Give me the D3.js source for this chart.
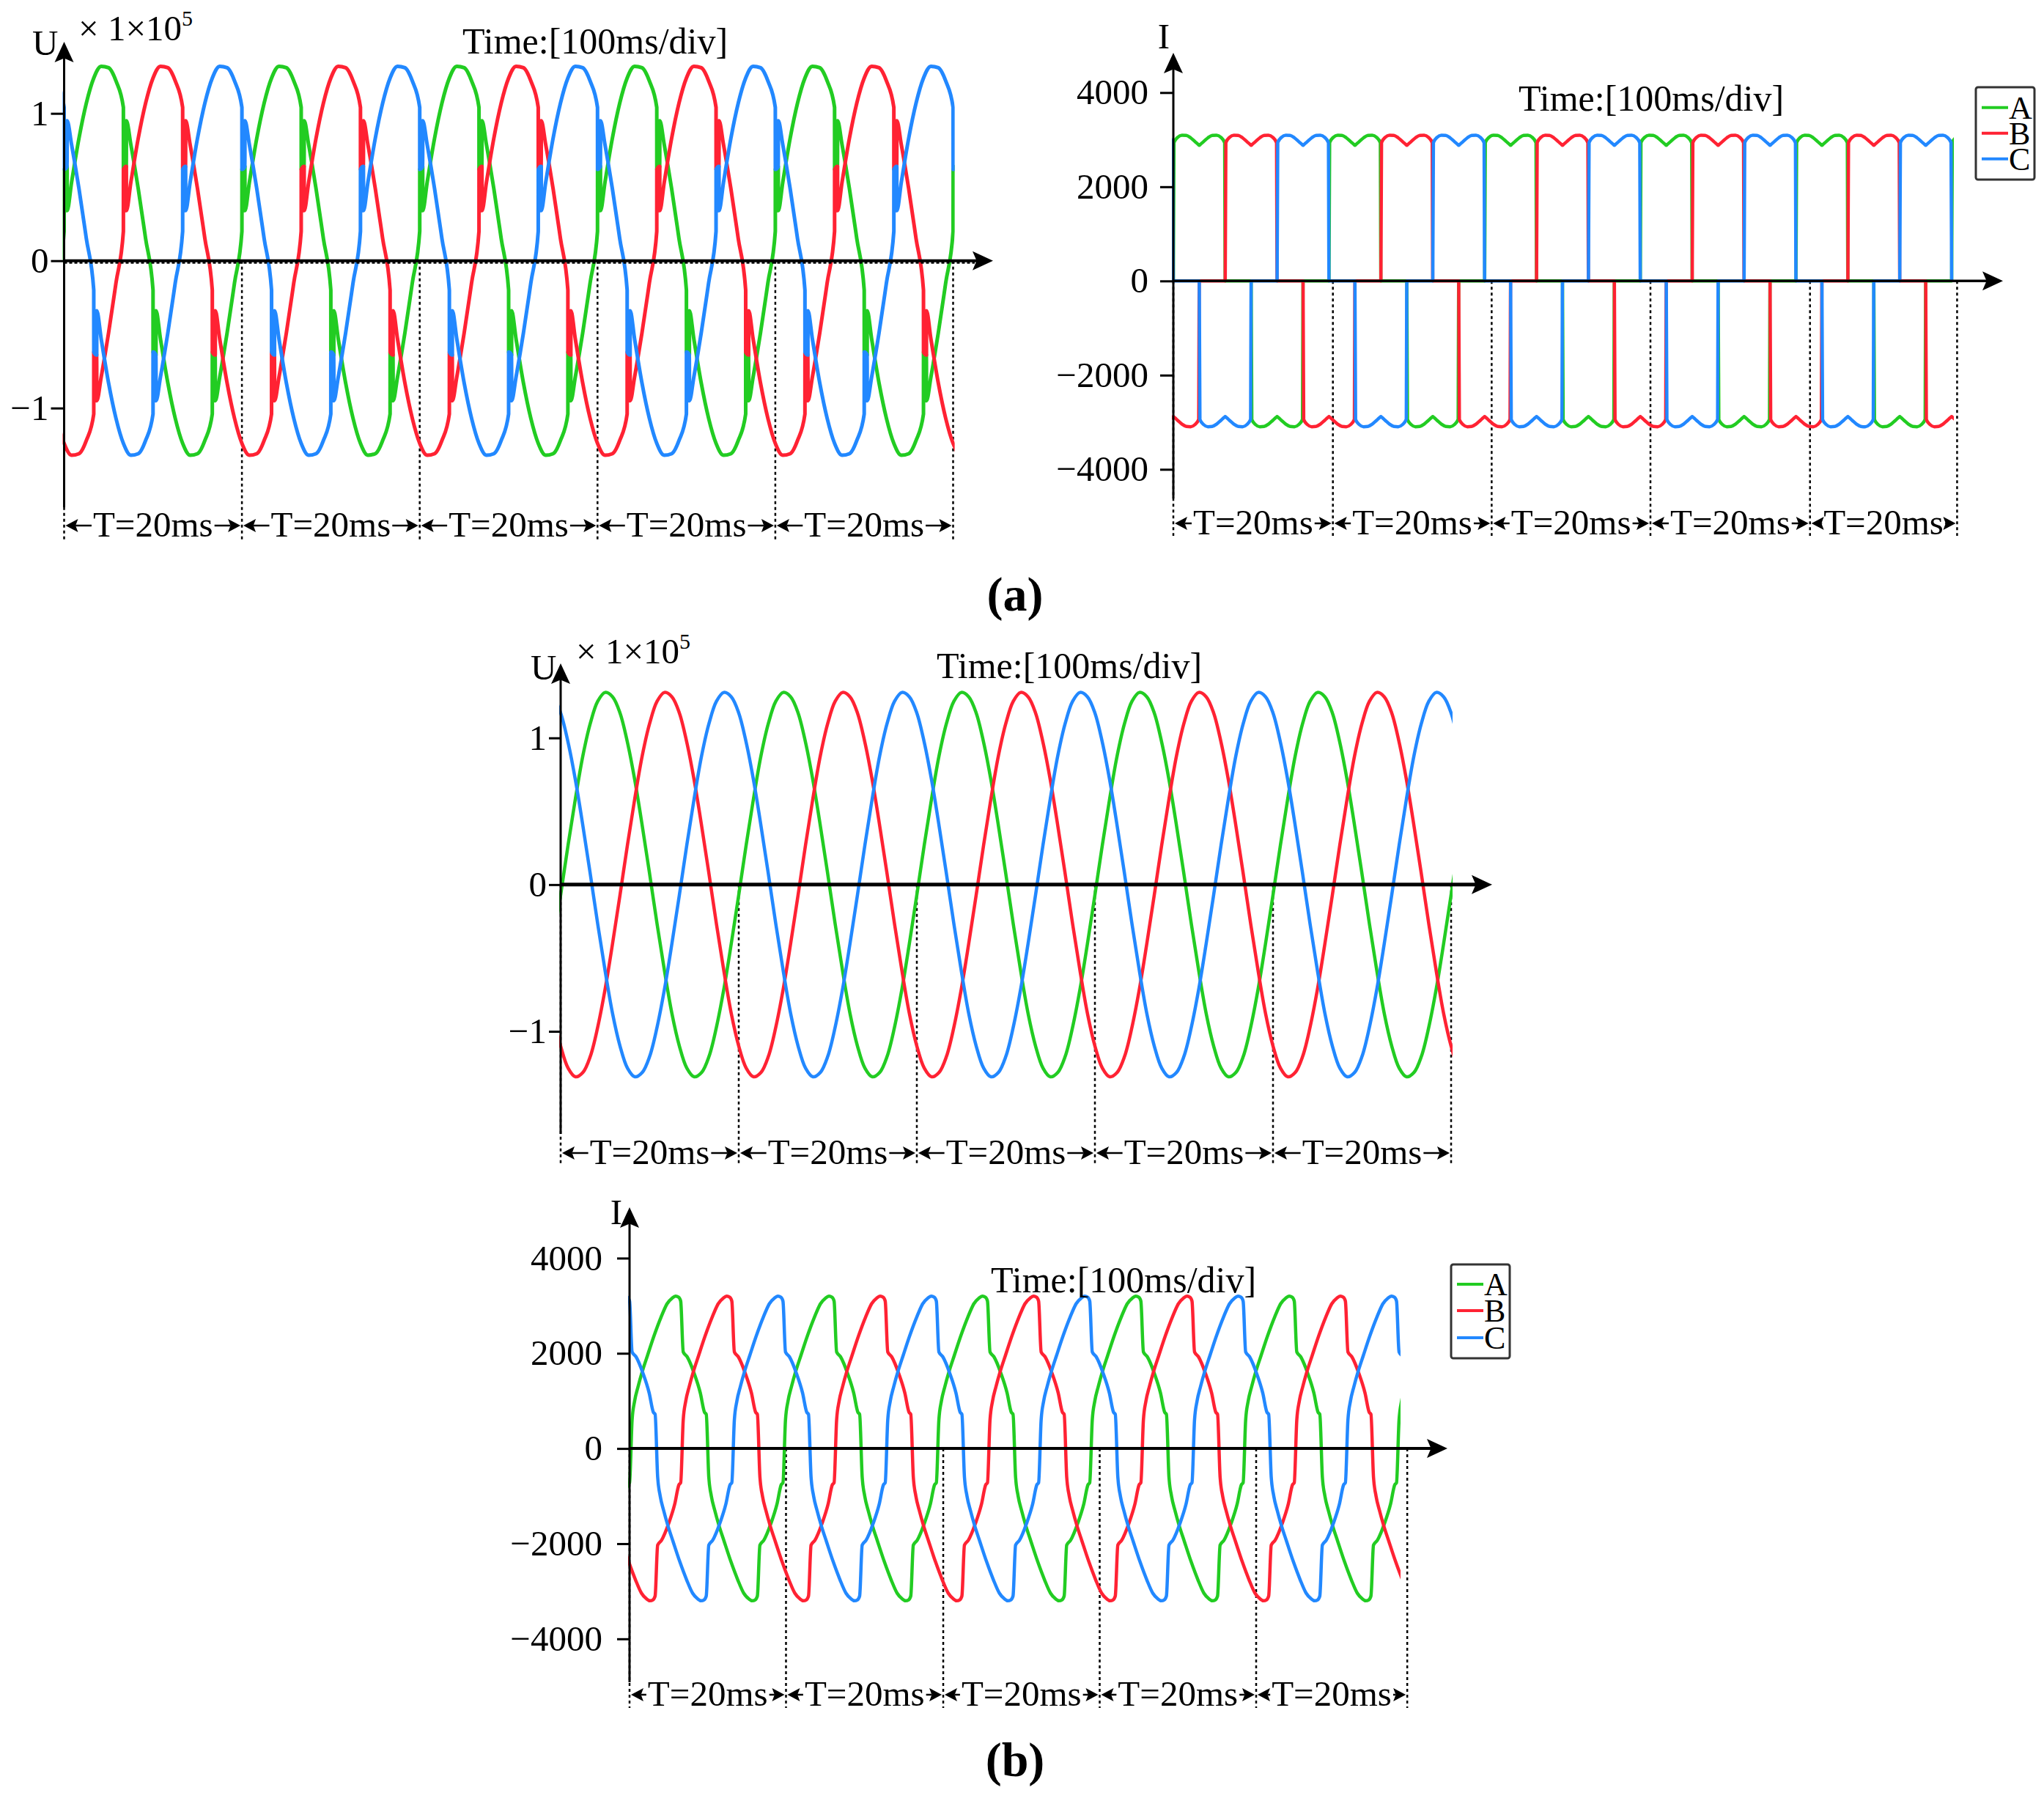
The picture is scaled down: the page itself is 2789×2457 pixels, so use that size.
<!DOCTYPE html>
<html><head><meta charset="utf-8">
<script src="https://cdnjs.cloudflare.com/ajax/libs/d3/7.8.5/d3.min.js"></script>
<style>
body{margin:0;background:#fff}
svg{display:block}
text{font-family:"Liberation Serif","Times New Roman",serif;fill:#000}
</style>
</head><body>
<svg id="c" width="2789" height="2457"></svg>
<script>
// ---------------- DATA ----------------
const phases = ["A", "B", "C"];
const phaseColors = ["#22cc22", "#ff2233", "#2288ff"];
const phaseShiftDeg = [0, 120, 240];          // B lags A by 120°, C by 240°
const uTicks = [-1, 0, 1];
const iTicks = [-4000, -2000, 0, 2000, 4000];
const periodLabel = "T=20ms";
const titleText = "Time:[100ms/div]";
const msPerDeg = 20 / 360;

// (a) voltage, phase A, one period (deg, ×1e5) incl. commutation notches
const uaDeg = [0, 0.1, 6, 6.1, 15, 30, 45, 60, 75, 90, 105, 120, 120.1, 126, 126.1, 135, 150, 165,
               180, 180.1, 186, 186.1, 195, 210, 225, 240, 255, 270, 285, 300, 300.1, 306, 306.1, 315, 330, 345];
const uaVal = [0.20, 0.62, 0.64, 0.34, 0.53, 0.83, 1.07, 1.24, 1.32, 1.31, 1.22, 1.04, 0.62, 0.64, 0.95, 0.79, 0.49, 0.15,
               -0.20, -0.62, -0.64, -0.34, -0.53, -0.83, -1.07, -1.24, -1.32, -1.31, -1.22, -1.04, -0.62, -0.64, -0.95, -0.79, -0.49, -0.15];

// (a) current, phase A, one period (deg, A)
const iaDeg = [0, 1.5, 10, 20, 30, 40, 50, 58, 60, 62, 70, 80, 90, 100, 110, 118.5, 120,
               180, 181.5, 190, 200, 210, 220, 230, 238, 240, 242, 250, 260, 270, 280, 290, 298.5, 300];
const iaVal = [0, 2940, 3050, 3095, 3090, 3040, 2960, 2895, 2880, 2895, 2960, 3040, 3090, 3095, 3050, 2940, 0,
               0, -2940, -3050, -3095, -3090, -3040, -2960, -2895, -2880, -2895, -2960, -3040, -3090, -3095, -3050, -2940, 0];

// (b) voltage, phase A, one period (deg, ×1e5)
const ubDeg = [0, 15, 30, 45, 60, 75, 90, 105, 120, 135, 150, 165, 180, 195, 210, 225, 240, 255, 270, 285, 300, 315, 330, 345];
const ubVal = [-0.07, 0.27, 0.59, 0.88, 1.10, 1.25, 1.31, 1.28, 1.17, 0.97, 0.71, 0.40,
               0.07, -0.27, -0.59, -0.88, -1.10, -1.25, -1.31, -1.28, -1.17, -0.97, -0.71, -0.40];

// (b) current, phase A, one period (deg, A)
const ibDeg = [0, 6, 12, 20, 30, 42, 58, 74, 88, 100, 108, 115, 120, 126, 135, 152, 166, 176,
               180, 186, 192, 200, 210, 222, 238, 254, 268, 280, 288, 295, 300, 306, 315, 332, 346, 356];
const ibVal = [-720, 600, 1000, 1300, 1620, 1950, 2380, 2760, 3040, 3160, 3200, 3180, 3100, 2030, 1930, 1570, 1170, 760,
               720, -600, -1000, -1300, -1620, -1950, -2380, -2760, -3040, -3160, -3200, -3180, -3100, -2030, -1930, -1570, -1170, -760];

// recorded spans (deg) and period-marker positions (ms)
const aLeftSpanDeg = 1800.2, aRightSpanDeg = 1801.5, bTopSpanDeg = 1800, bBotSpanDeg = 1806;
const aLeftMarks = [0, 20, 40, 60, 80, 100];
const aRightMarks = [0, 20.5, 40.9, 61.3, 81.8, 100.7];
const bTopMarks = [0, 20, 40, 60, 80, 100];
const bBotMarks = [0, 20.4, 40.9, 61.3, 81.7, 101.4];

// ---------------- LAYOUT ----------------
const svg = d3.select("#c");
const defs = svg.append("defs");

function tile(deg, val, shift, spanDeg) {
  const pts = [];
  const n = Math.ceil(spanDeg / 360) + 1;
  for (let p = -1; p <= n; p++) {
    for (let i = 0; i < deg.length; i++) {
      const th = deg[i] + shift + 360 * p;
      if (th >= -40 && th <= spanDeg + 40) pts.push([th * msPerDeg, val[i]]);
    }
  }
  pts.sort((a, b) => a[0] - b[0]);
  return pts;
}

const panels = [
  { id: "aL", deg: uaDeg, val: uaVal, span: aLeftSpanDeg, marks: aLeftMarks,
    xr: [87.5, 1300.5], yDom: [-1, 1], yr: [556.7, 154.7], ticks: uTicks, fmt: d3.format("d"),
    curve: d3.curveMonotoneX, lw: 5, yTip: 57, yBot: 692, xTip: 1355, dashBot: 736, labelBase: 732,
    tickSize: 18, tickPad: 3, xAxisW: 4, dotted: true,
    title: [631, 73], yName: "U", yNamePos: [44, 75, "start"], mult: [107, 55] },
  { id: "aR", deg: iaDeg, val: iaVal, span: aRightSpanDeg, marks: aRightMarks,
    xr: [1601, 2663], yDom: [-4000, 4000], yr: [640.3, 126.3], ticks: iTicks, fmt: d3.format("d"),
    curve: d3.curveMonotoneX, lw: 4.5, yTip: 72, yBot: 680, xTip: 2733, dashBot: 731, labelBase: 729,
    tickSize: 18, tickPad: 16, xAxisW: 3.5,
    title: [2072, 151], yName: "I", yNamePos: [1588, 66, "middle"],
    legend: { x: 2696, y: 119, w: 80, h: 126, rows: [146.7, 181.7, 216.7] } },
  { id: "bT", deg: ubDeg, val: ubVal, span: bTopSpanDeg, marks: bTopMarks,
    xr: [765, 1980], yDom: [-1, 1], yr: [1407, 1006.7], ticks: uTicks, fmt: d3.format("d"),
    curve: d3.curveCatmullRom.alpha(0.5), lw: 4.5, yTip: 905, yBot: 1547, xTip: 2036, dashBot: 1590, labelBase: 1588,
    tickSize: 16, tickPad: 3, xAxisW: 5,
    title: [1278, 925], yName: "U", yNamePos: [724, 927, "start"], mult: [786, 905] },
  { id: "bB", deg: ibDeg, val: ibVal, span: bBotSpanDeg, marks: bBotMarks,
    xr: [859, 1905.5], yDom: [-4000, 4000], yr: [2235.8, 1716.4], ticks: iTicks, fmt: d3.format("d"),
    curve: d3.curveMonotoneX, lw: 4.5, yTip: 1647, yBot: 2295, xTip: 1975, dashBot: 2330, labelBase: 2327,
    tickSize: 17, tickPad: 20, xAxisW: 4,
    title: [1352, 1763], yName: "I", yNamePos: [841, 1670, "middle"],
    legend: { x: 1980, y: 1725, w: 80, h: 128, rows: [1752, 1788, 1825] } }
];

const FS = 49;

function arrowHead(g, tipX, tipY, dir, len, half) {
  let pts;
  if (dir === "up") pts = [[tipX, tipY], [tipX - half, tipY + len], [tipX, tipY + len * 0.8], [tipX + half, tipY + len]];
  else if (dir === "right") pts = [[tipX, tipY], [tipX - len, tipY - half], [tipX - len * 0.8, tipY], [tipX - len, tipY + half]];
  else pts = [[tipX, tipY], [tipX + len, tipY - half], [tipX + len * 0.8, tipY], [tipX + len, tipY + half]];
  g.append("path").attr("d", "M" + pts.map(p => p.join(",")).join("L") + "Z").attr("fill", "#000");
}

panels.forEach(p => {
  const g = svg.append("g");
  const x = d3.scaleLinear().domain([0, 100]).range(p.xr);
  const y = d3.scaleLinear().domain(p.yDom).range(p.yr);
  const y0 = y(0), xa = x(0);
  const spanMs = p.span * msPerDeg;

  g.selectAll("line.mark").data(p.marks).join("line")
    .attr("x1", d => x(d)).attr("x2", d => x(d))
    .attr("y1", y0).attr("y2", p.dashBot)
    .attr("stroke", "#000").attr("stroke-width", 2.5).attr("stroke-dasharray", "4,4");

  const clipId = "clip-" + p.id;
  defs.append("clipPath").attr("id", clipId).append("rect")
    .attr("x", xa - 2).attr("y", 0).attr("width", x(spanMs) - xa + 4).attr("height", 2457);
  const line = d3.line().x(d => x(d[0])).y(d => y(d[1])).curve(p.curve);
  phases.forEach((ph, k) => {
    const pts = tile(p.deg, p.val, phaseShiftDeg[k], p.span);
    g.append("path").attr("d", line(pts))
      .attr("fill", "none").attr("stroke", phaseColors[k]).attr("stroke-width", p.lw)
      .attr("stroke-linejoin", "round").attr("clip-path", `url(#${clipId})`);
  });

  g.append("line").attr("x1", xa).attr("x2", p.xTip - 20).attr("y1", y0).attr("y2", y0)
    .attr("stroke", "#000").attr("stroke-width", p.xAxisW);
  if (p.dotted) {
    g.append("line").attr("x1", xa).attr("x2", p.xTip - 25).attr("y1", y0 + 2.5).attr("y2", y0 + 2.5)
      .attr("stroke", "#000").attr("stroke-width", 3).attr("stroke-dasharray", "4,3");
  }
  arrowHead(g, p.xTip, y0, "right", 28, 13);

  g.append("line").attr("x1", xa).attr("x2", xa).attr("y1", p.yTip + 20).attr("y2", p.yBot)
    .attr("stroke", "#000").attr("stroke-width", 3);
  arrowHead(g, xa, p.yTip, "up", 28, 13);

  const yAxis = d3.axisLeft(y).tickValues(p.ticks).tickFormat(p.fmt)
    .tickSize(p.tickSize).tickPadding(p.tickPad);
  const ya = g.append("g").attr("transform", `translate(${xa},0)`).call(yAxis);
  ya.select(".domain").remove();
  ya.selectAll(".tick line").attr("stroke", "#000").attr("stroke-width", 3);
  ya.selectAll(".tick text").attr("font-size", FS)
    .attr("font-family", '"Liberation Serif","Times New Roman",serif').attr("fill", "#000");

  g.append("text").attr("x", p.title[0]).attr("y", p.title[1]).attr("font-size", 50).text(titleText);

  g.append("text").attr("x", p.yNamePos[0]).attr("y", p.yNamePos[1]).attr("text-anchor", p.yNamePos[2])
    .attr("font-size", FS).text(p.yName);
  if (p.mult) {
    const t = g.append("text").attr("x", p.mult[0]).attr("y", p.mult[1]).attr("font-size", FS);
    t.append("tspan").text("\u00d7 1\u00d710");
    t.append("tspan").attr("font-size", 30).attr("dy", -20).text("5");
  }

  for (let i = 0; i < p.marks.length - 1; i++) {
    const xl = x(p.marks[i]), xr = x(p.marks[i + 1]);
    const mid = (xl + xr) / 2;
    const t = g.append("text").attr("x", mid).attr("y", p.labelBase).attr("text-anchor", "middle")
      .attr("font-size", FS).text(periodLabel);
    const w = t.node().getComputedTextLength();
    const ay = p.labelBase - 15;
    const hl = 17, hh = 9;
    g.append("line").attr("x1", xl + 2 + hl * 0.8).attr("x2", mid - w / 2 - 2).attr("y1", ay).attr("y2", ay)
      .attr("stroke", "#000").attr("stroke-width", 2.5);
    g.append("line").attr("x1", mid + w / 2 + 2).attr("x2", xr - 2 - hl * 0.8).attr("y1", ay).attr("y2", ay)
      .attr("stroke", "#000").attr("stroke-width", 2.5);
    arrowHead(g, xl + 2, ay, "left", hl, hh);
    arrowHead(g, xr - 2, ay, "right", hl, hh);
  }

  if (p.legend) {
    const L = p.legend;
    g.append("rect").attr("x", L.x).attr("y", L.y).attr("width", L.w).attr("height", L.h).attr("rx", 3)
      .attr("fill", "#fff").attr("stroke", "#333").attr("stroke-width", 3);
    phases.forEach((ph, k) => {
      g.append("line").attr("x1", L.x + 8).attr("x2", L.x + 44).attr("y1", L.rows[k]).attr("y2", L.rows[k])
        .attr("stroke", phaseColors[k]).attr("stroke-width", 4);
      g.append("text").attr("x", L.x + 45).attr("y", L.rows[k] + 15).attr("font-size", 44).text(ph);
    });
  }
});

svg.append("text").attr("x", 1385).attr("y", 833).attr("text-anchor", "middle")
  .attr("font-size", 66).attr("font-weight", "bold").text("(a)");
svg.append("text").attr("x", 1385).attr("y", 2423).attr("text-anchor", "middle")
  .attr("font-size", 66).attr("font-weight", "bold").text("(b)");
</script>
</body></html>
